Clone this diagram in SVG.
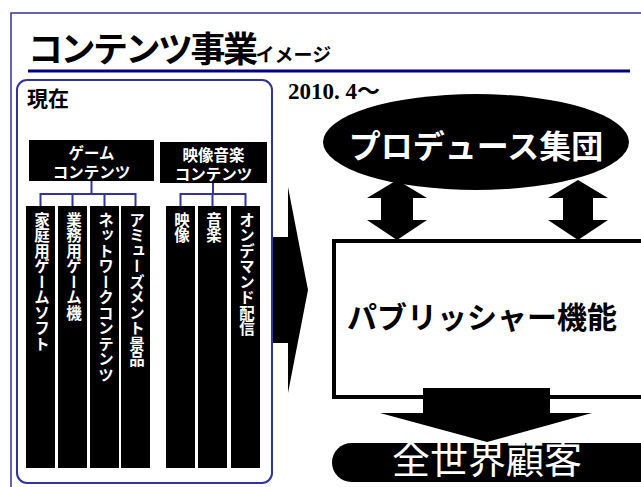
<svg xmlns="http://www.w3.org/2000/svg" width="641" height="487" viewBox="0 0 641 487">
  <style>
    .serif { font-family: "Liberation Serif", "Noto Sans CJK JP", serif; font-weight: bold; fill: #000; }
    .jp { font-family: "Liberation Sans", "Noto Sans CJK JP", sans-serif; }
    .boxlbl { font-family: "Liberation Sans", "Noto Sans CJK JP", sans-serif; font-weight: bold; font-size: 15.5px; fill: #fff; text-anchor: middle; }
    .bar { fill: #000; }
    .vt { font-family: "Liberation Sans", "Noto Sans CJK JP", sans-serif; font-weight: bold; font-size: 15.5px; fill: #fff; writing-mode: vertical-rl; }
    .conn { fill: none; stroke: #333399; stroke-width: 2; }
    .blk { fill: #000; }
  </style>
  <rect width="641" height="487" fill="#fff"/>

  <g id="frame">
    <path d="M11 487 V13 H641" fill="none" stroke="#333399" stroke-width="1.5"/>
    <line x1="28" y1="71" x2="630" y2="71" stroke="#000080" stroke-width="3"/>
  </g>

  <g id="title">
    <text class="serif" x="28" y="62" font-size="35" letter-spacing="-2.5">コンテンツ事業<tspan font-size="19" letter-spacing="0">イメージ</tspan></text>
  </g>

  <g id="current">
    <rect x="17" y="80" width="255" height="403" rx="10" fill="#fff" stroke="#333399" stroke-width="2"/>
    <text class="serif" x="27" y="106" font-size="21">現在</text>
  </g>

  <g id="date">
    <text class="serif" x="288" y="99" font-size="23">2010. 4～</text>
  </g>

  <g id="connectors">
    <path class="conn" d="M91.5 181 V194 M40.5 206 V194 H135.5 V206 M72.5 194 V206 M104.5 194 V206"/>
    <path class="conn" d="M213 183 V194 M180.5 206 V194 H245.5 V206 M212.5 194 V206"/>
    <polygon class="blk" points="397,180 427,198 413,198 413,220 427,220 397,240 367,220 381,220 381,198 367,198"/>
    <polygon class="blk" points="578,180 608,198 593,198 593,220 608,220 578,240 548,220 563,220 563,198 548,198"/>
    <polygon class="blk" points="273,237 288,237 288,187 308,290 288,393 288,343 273,343"/>
  </g>

  <g id="game-contents">
    <rect x="29" y="140" width="125" height="41" fill="#000"/>
    <text class="boxlbl" x="91.5" y="159">ゲーム</text>
    <text class="boxlbl" x="91.5" y="178">コンテンツ</text>
  </g>

  <g id="video-music-contents">
    <rect x="160" y="142" width="107" height="41" fill="#000"/>
    <text class="boxlbl" x="213.5" y="161" font-size="16.5">映像音楽</text>
    <text class="boxlbl" x="213.5" y="180">コンテンツ</text>
  </g>

  <g id="bar-home-game">
    <rect class="bar" x="26" y="206" width="29" height="262"/>
    <text class="vt" x="40.5" y="212">家庭用ゲームソフト</text>
  </g>
  <g id="bar-arcade">
    <rect class="bar" x="58" y="206" width="29" height="262"/>
    <text class="vt" x="72.5" y="212">業務用ゲーム機</text>
  </g>
  <g id="bar-network">
    <rect class="bar" x="90" y="206" width="29" height="262"/>
    <text class="vt" x="104.5" y="212">ネットワークコンテンツ</text>
  </g>
  <g id="bar-amusement">
    <rect class="bar" x="121" y="206" width="29" height="262"/>
    <text class="vt" x="135.5" y="212">アミューズメント景品</text>
  </g>
  <g id="bar-video">
    <rect class="bar" x="166" y="206" width="29" height="262"/>
    <text class="vt" x="180.5" y="212">映像</text>
  </g>
  <g id="bar-music">
    <rect class="bar" x="198" y="206" width="29" height="262"/>
    <text class="vt" x="212.5" y="212">音楽</text>
  </g>
  <g id="bar-ondemand">
    <rect class="bar" x="231" y="206" width="29" height="262"/>
    <text class="vt" x="245.5" y="212">オンデマンド配信</text>
  </g>

  <g id="producer">
    <ellipse cx="476" cy="142" rx="153" ry="48" fill="#000"/>
    <text class="jp" x="476" y="158" font-size="32" font-weight="bold" fill="#fff" text-anchor="middle">プロデュース集団</text>
  </g>

  <g id="publisher">
    <rect x="334" y="241" width="320" height="156" fill="#fff" stroke="#000" stroke-width="4"/>
    <text class="jp" x="482" y="328" font-size="30" font-weight="bold" fill="#000" text-anchor="middle">パブリッシャー機能</text>
    <polygon class="blk" points="423,388 550,388 550,413 592,413 487,442 380,413 423,413"/>
  </g>

  <g id="customers">
    <rect x="332" y="443" width="330" height="39" rx="19.5" fill="#000"/>
    <text class="jp" x="487" y="478" font-size="38" fill="#fff" text-anchor="middle" dominant-baseline="alphabetic"><tspan dy="-5">全世界顧客</tspan></text>
  </g>
</svg>
